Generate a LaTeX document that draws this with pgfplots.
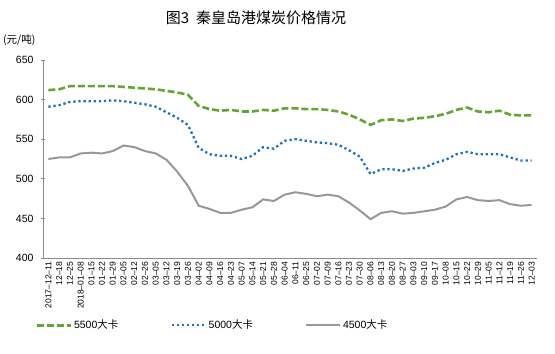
\documentclass[border=0pt]{standalone}
\usepackage{fontspec}
\setmainfont{Liberation Sans}
\newfontfamily\cjk{Noto Sans CJK SC}
\usepackage{pgfplots}
\usepackage{pgfplotstable}
\pgfplotsset{compat=1.18}
\definecolor{cgreen}{RGB}{102,165,52}
\definecolor{cblue}{RGB}{32,110,200}
\definecolor{cgray}{RGB}{152,152,152}
\definecolor{caxis}{RGB}{140,140,140}
\pgfplotstableread{
i a b c
0 612 591 525
1 613 593 527
2 617 597 527
3 617 598 532
4 617 598 533
5 617 598 532
6 617 599 535
7 616 598 542
8 615 596 540
9 614 594 535
10 613 591 532
11 611 584 524
12 609 577 509
13 606 568 491
14 592 539 466
15 588 531 462
16 586 529 457
17 587 529 457
18 585 525 461
19 585 529 464
20 587 540 474
21 586 538 472
22 589 548 480
23 589 550 483
24 588 548 481
25 588 546 478
26 587 545 480
27 585 543 478
28 581 536 470
29 575 528 460
30 568 506 449
31 574 512 457
32 575 512 459
33 573 510 456
34 576 513 457
35 577 514 459
36 579 520 461
37 582 524 465
38 587 531 474
39 590 534 477
40 585 531 473
41 584 531 472
42 586 531 473
43 581 527 468
44 580 523 466
45 580 523 467
}\datatable
\begin{document}
\begin{tikzpicture}
\useasboundingbox (0,0) rectangle (555bp,354bp);
\node[font=\cjk\fontsize{15bp}{16bp}\selectfont] at (256bp,336bp) {图3\ \ 秦皇岛港煤炭价格情况};
\node[font=\cjk\fontsize{10.5bp}{12bp}\selectfont, anchor=west, inner sep=0pt] at (3bp,314bp) {(元/吨)};
\begin{axis}[
  at={(43bp,96bp)}, anchor=south west,
  scale only axis, width=494bp, height=198bp,
  xmin=-0.5, xmax=45.5, ymin=400, ymax=650,
  axis x line=bottom, axis y line=left,
  axis line style={-, draw=caxis, line width=0.8bp},
  ytick={400,450,...,650},
  yticklabel style={font=\fontsize{10.5bp}{12bp}\selectfont, xshift=-4bp},
  ytick style={draw=caxis, line width=0.8bp},
  major tick length=4bp,
  xtick={0,...,45},
  xtick style={draw=none},
  minor xtick={-0.5,0.5,...,45.5},
  minor tick length=4bp,
  minor tick style={draw=caxis, line width=0.8bp},
  xticklabels={2017--12--11,12--18,12--25,2018--01--08,01--15,01--22,01--29,02--05,02--12,02--26,03--05,03--12,03--19,03--26,04--02,04--09,04--16,04--23,05--07,05--14,05--21,05--28,06--04,06--11,06--25,07--02,07--09,07--16,07--23,07--30,08--06,08--13,08--20,08--27,09--03,09--10,09--17,10--08,10--15,10--22,10--29,11--05,11--12,11--19,11--26,12--03},
  xticklabel style={rotate=90, anchor=east, font=\fontsize{8.5bp}{9bp}\selectfont, inner sep=1.5bp},
  /pgf/number format/assume math mode=true,
  legend columns=3,
  legend style={draw=none, fill=none, at={(0.343,-0.34)}, anchor=center,
    font=\fontsize{10.5bp}{12bp}\selectfont,
    /tikz/every even column/.append style={column sep=50bp}},
  legend image code/.code={\draw[#1] (0bp,0bp) -- (34bp,0bp);},
  clip=false,
]
\addplot[cgreen, line width=2.6bp, dash pattern=on 7bp off 3bp] table[x=i,y=a] {\datatable};
\addlegendentry{5500{\cjk 大卡}}
\addplot[cblue, line width=2.3bp, dash pattern=on 2.3bp off 2.8bp] table[x=i,y=b] {\datatable};
\addlegendentry{5000{\cjk 大卡}}
\addplot[cgray, line width=2bp] table[x=i,y=c] {\datatable};
\addlegendentry{4500{\cjk 大卡}}
\end{axis}
\end{tikzpicture}
\end{document}
